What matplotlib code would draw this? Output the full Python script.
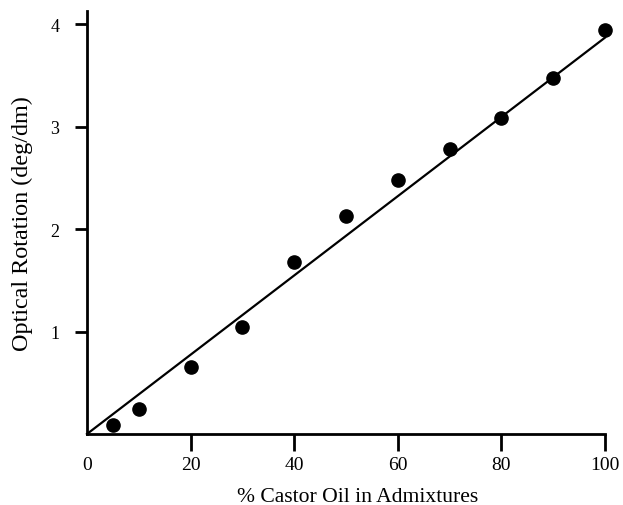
import numpy as np
import matplotlib
matplotlib.use("Agg")
import matplotlib.pyplot as plt

plt.rcParams['font.family'] = ['Liberation Serif', 'DejaVu Serif']

# 数据：蓖麻油含量 vs 旋光度
castor_pct = [5, 10, 20, 30, 40, 50, 60, 70, 80, 90, 100]
rotation = [0.09, 0.24, 0.65, 1.04, 1.68, 2.13, 2.48, 2.78, 3.09, 3.48, 3.94]
fit_x = [0, 100]
fit_y = [0, 3.87]

x_ticks = [0, 20, 40, 60, 80, 100]
x_labels = ['0', '20', '40', '60', '80', '100']
y_ticks = [1, 2, 3, 4]
y_labels = ['1', '2', '3', '4']

fig = plt.figure(figsize=(6.23, 5.06), dpi=100)
ax = fig.add_axes([0.1396, 0.1403, 0.8315, 0.836])

ax.plot(fit_x, fit_y, 'k-', linewidth=1.6, clip_on=False)
ax.plot(castor_pct, rotation, 'ko', markersize=9.5, clip_on=False)

ax.set_xlim(0, 100)
ax.set_ylim(0, 4.13)

# 只保留左、下坐标轴
for side in ['top', 'right']:
    ax.spines[side].set_visible(False)
for side in ['left', 'bottom']:
    ax.spines[side].set_linewidth(2)

ax.set_xticks(x_ticks)
ax.set_xticklabels(x_labels)
ax.set_yticks(y_ticks)
ax.set_yticklabels(y_labels)
ax.tick_params(axis='x', direction='out', length=12, width=2, pad=4, labelsize=14)
ax.tick_params(axis='y', direction='out', length=9, width=2, pad=11, labelsize=13)

# x=0 处不画刻度线，只留标签
ax.xaxis.get_major_ticks()[0].tick1line.set_visible(False)

ax.set_xlabel('% Castor Oil in Admixtures', fontsize=15.6, labelpad=8)
ax.xaxis.set_label_coords(0.523, -0.125)
ax.set_ylabel('Optical Rotation (deg/dm)', fontsize=17.4, labelpad=12)

plt.savefig("out.png", dpi=100)
